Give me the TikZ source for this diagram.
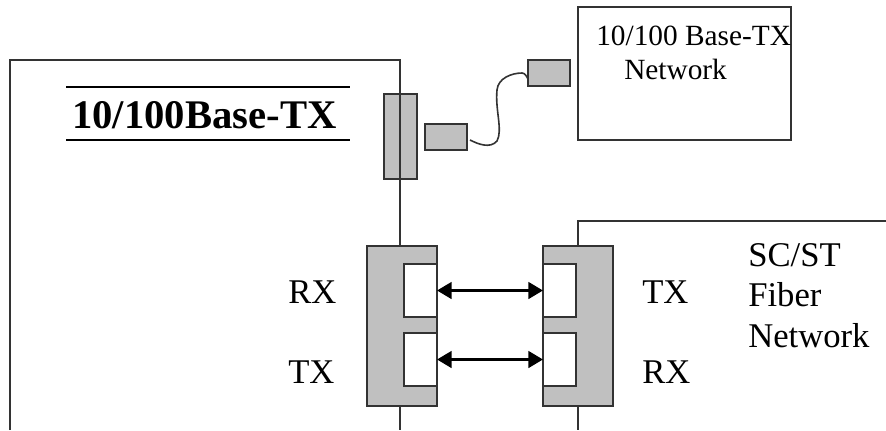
\documentclass[tikz,border=0pt]{standalone}
\usepackage{fontspec}
\setmainfont{Liberation Serif}
\usetikzlibrary{arrows.meta}
\definecolor{blockgray}{HTML}{C0C0C0}
\definecolor{edgegray}{HTML}{333333}

\begin{document}
\begin{tikzpicture}[x=0.75pt,y=0.75pt,yscale=-1,
        block/.style={draw=edgegray,line width=1.05pt,inner sep=0pt,outer sep=0pt},
        grayblock/.style={block,fill=blockgray},
        window/.style={block,fill=white,minimum width=24.75pt,minimum height=39.75pt},
        frameline/.style={draw=edgegray,line width=1.05pt},
        duplex/.style={{Triangle[length=11pt,width=12.5pt]}-{Triangle[length=11pt,width=12.5pt]},line width=2pt,black},
        label/.style={anchor=base west,inner sep=0pt,font=\fontsize{26}{26}\selectfont}]
        \useasboundingbox (0,0) rectangle (886,430);

        % Connector on the device edge
        \node [grayblock,minimum width=24.75pt,minimum height=63.75pt] (port) at (400.5,136.5) {};

        % Device outline
        \draw [frameline] (10,430) -- (10,60) -- (400,60) -- (400,246);
        \draw [frameline] (400,406) -- (400,430);
        % Fiber network outline
        \draw [frameline] (578,246) -- (578,221) -- (886,221);
        \draw [frameline] (578,406) -- (578,430);

        % Plugs
        \node [grayblock,minimum width=31.5pt,minimum height=19.5pt] (plugleft) at (446,137) {};
        \node [grayblock,minimum width=31.5pt,minimum height=19.5pt] (plugright) at (549,73) {};
        % Network box
        \node [block,minimum width=159.75pt,minimum height=99.75pt] (netbox) at (684.5,73.5) {};

        % Cable
        \draw [edgegray,line width=1.2pt] ([shift={(3,3)}]plugleft.east) .. controls (478,144) and (490,149) .. (497,141)
            .. controls (503,130) and (495,110) .. (497,90)
            .. controls (498,78) and (512,73) .. (522,73)
            .. controls (525,73) and (527,77) .. ([yshift=-5.25pt]plugright.south west);

        % Fiber modules
        \node [grayblock,minimum width=52.5pt,minimum height=120pt] (moduleleft) at (402,326) {};
        \node [grayblock,minimum width=52.5pt,minimum height=120pt] (moduleright) at (578,326) {};
        \node [window] (rxwindow) at (420.5,290.5) {};
        \node [window] (txwindow) at (420.5,359.5) {};
        \node [window] (txwindowfar) at (559.5,290.5) {};
        \node [window] (rxwindowfar) at (559.5,359.5) {};

        % Fiber links
        \draw [duplex] (rxwindow.east) -- (txwindowfar.west);
        \draw [duplex] (txwindow.east) -- (rxwindowfar.west);

        % Text Node
        \node [label,font=\fontsize{30.5}{30.5}\selectfont\bfseries] (title) at (72,128) {10/100Base-TX};
        \coordinate (titletopa) at (66,87);
        \coordinate (titletopb) at (350,87);
        \coordinate (titlebota) at (66,140);
        \coordinate (titlebotb) at (350,140);
        \draw [line width=1.6pt] (titletopa) -- (titletopb);
        \draw [line width=1.6pt] (titlebota) -- (titlebotb);

        % Text Node
        \node [label,font=\fontsize{22}{22}\selectfont] (nettexta) at (596,45) {10/100 Base-TX};
        \node [label,font=\fontsize{22}{22}\selectfont] (nettextb) at (624,79) {Network};

        % Text Node
        \node [label] (rxleft) at (288,303) {RX};
        \node [label] (txleft) at (288,383) {TX};
        \node [label] (txright) at (642,303) {TX};
        \node [label] (rxright) at (642,383) {RX};

        % Text Node
        \node [label] (fibera) at (748,266) {SC/ST};
        \node [label] (fiberb) at (748,306) {Fiber};
        \node [label] (fiberc) at (748,347) {Network};
\end{tikzpicture}
\end{document}
